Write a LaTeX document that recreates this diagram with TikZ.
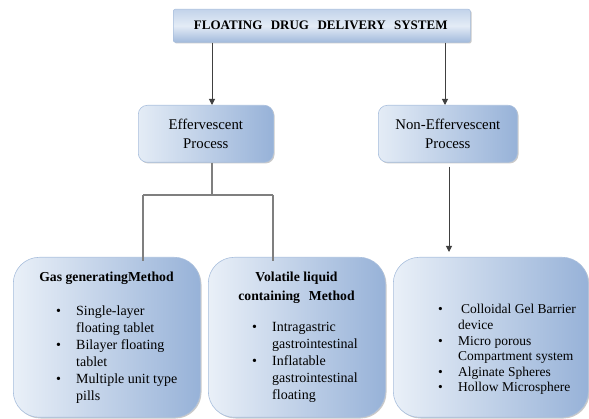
\documentclass[tikz,border=0pt]{standalone}
\usepackage{fontspec}
\setmainfont{Liberation Serif}
\usetikzlibrary{arrows.meta,shadows}
\definecolor{boxlight}{HTML}{E4ECF6}
\definecolor{boxmid}{HTML}{C3D3EA}
\definecolor{boxdark}{HTML}{97B2D8}
\definecolor{boxedge}{HTML}{A9BFDD}
\definecolor{arrowcol}{HTML}{404040}
\definecolor{linecol}{HTML}{7F7F7F}
\tikzset{
  basebox/.style={draw=boxedge, line width=0.6pt, anchor=north west, inner sep=0pt,
    drop shadow={opacity=0.35, shadow xshift=1.2pt, shadow yshift=-1.2pt, fill=black!60}},
  topbox/.style={basebox, rounded corners=2pt, top color=boxmid, bottom color=boxdark!90, middle color=boxlight},
  procbox/.style={basebox, rounded corners=9pt, shading angle=60, left color=boxlight, right color=boxdark},
  bigbox/.style={basebox, rounded corners=26pt, shading angle=70, left color=boxlight!80, right color=boxdark},
  txt/.style={font=\fontsize{14.8}{19}\selectfont, inner sep=0pt, align=center},
  ttl/.style={font=\fontsize{13.7}{17}\selectfont\bfseries, inner sep=0pt, anchor=base},
  listtxt/.style={font=\fontsize{14}{17}\selectfont, inner sep=0pt, anchor=base west},
  arr/.style={draw=arrowcol, line width=1pt, -{Triangle[width=6pt,length=6pt]}},
  brk/.style={draw=linecol, line width=1.1pt}
}
\newcommand{\bul}{\makebox[20pt][l]{\textbullet}}
\newcommand{\ind}{\hspace*{20pt}}
\begin{document}
\begin{tikzpicture}[x=1pt,y=-1pt]
\useasboundingbox (0,0) rectangle (589,419);
% boxes
\node[topbox, minimum width=297pt, minimum height=33pt] (top) at (173,9) {};
\node[font=\fontsize{13}{15}\selectfont\bfseries, inner sep=0pt] (toptxt) at ([xshift=-1pt,yshift=0.5pt]top.center) {FLOATING\hspace{0.4em} DRUG\hspace{0.4em} DELIVERY\hspace{0.4em} SYSTEM};
\node[procbox, minimum width=135pt, minimum height=57pt] (eff) at (138,105) {};
\node[txt] (efftxt) at (eff.center) {Effervescent\\Process};
\node[procbox, minimum width=139pt, minimum height=57pt] (neff) at (378,105) {};
\node[txt] (nefftxt) at (neff.center) {Non-Effervescent\\Process};

\node[bigbox, minimum width=187pt, minimum height=160pt] (gas) at (13,257) {};
\node[bigbox, minimum width=177pt, minimum height=160pt] (vol) at (208,257) {};
\node[bigbox, minimum width=195pt, minimum height=160pt] (non) at (393,257) {};

% texts in bottom boxes
\node[ttl] (gast) at (106.5,282) {Gas generatingMethod};
\node[listtxt] (gasl) at (56,316) {\begin{tabular}[t]{@{}l@{}}
\bul Single-layer\\
\ind floating tablet\\
\bul Bilayer floating\\
\ind tablet\\
\bul Multiple unit type\\
\ind pills
\end{tabular}};

\node[ttl] (volt) at (296.5,282) {Volatile liquid};
\node[ttl] (volt2) at (296.5,301) {containing\hspace{0.4em} Method};
\node[listtxt] (voll) at (252,332) {\begin{tabular}[t]{@{}l@{}}
\bul Intragastric\\
\ind gastrointestinal\\
\bul Inflatable\\
\ind gastrointestinal\\
\ind floating
\end{tabular}};

\node[listtxt, font=\fontsize{13.5}{15.6}\selectfont] (nonl) at (438,314) {\begin{tabular}[t]{@{}l@{}}
\bul\hspace{3pt}Colloidal Gel Barrier\\
\ind device\\
\bul Micro porous\\
\ind Compartment system\\
\bul Alginate Spheres\\
\bul Hollow Microsphere
\end{tabular}};

% connectors
\coordinate (ca) at (212,0);
\coordinate (cb) at (445,0);
\coordinate (cc) at (449,0);
\coordinate (j) at (212,195);
\coordinate (jl) at (143,195);
\coordinate (jr) at (273,195);
\draw[arr] (top.south -| ca) -- (eff.north -| ca);
\draw[arr] (top.south -| cb) -- (neff.north -| cb);
\draw[arr, shorten <=4pt, shorten >=5pt] (neff.south -| cc) -- (non.north -| cc);
\draw[brk] (eff.south -| j) -- (j);
\draw[brk] (jl) -- (jr);
\draw[brk] (jl) -- ([yshift=-4pt]gas.north -| jl);
\draw[brk] (jr) -- ([yshift=-4pt]vol.north -| jr);
\end{tikzpicture}
\end{document}
